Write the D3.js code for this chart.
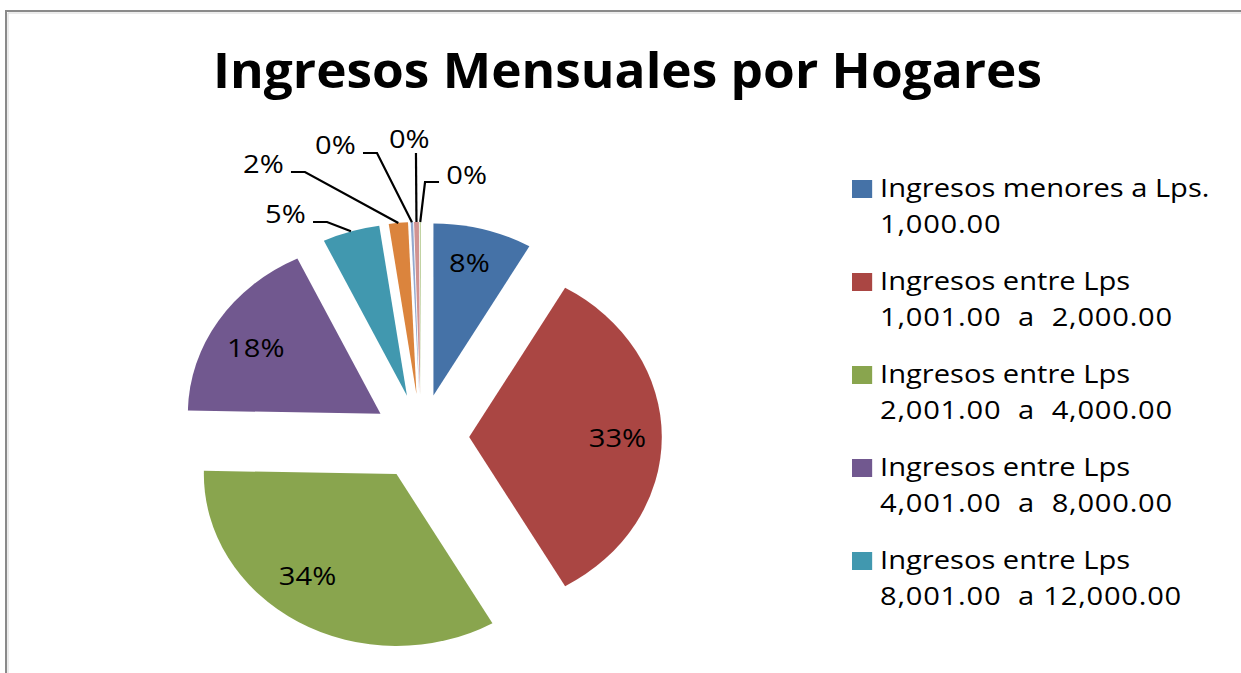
<!DOCTYPE html>
<html>
<head>
<meta charset="utf-8">
<script src="https://cdn.jsdelivr.net/npm/d3@7"></script>
<style>
  html, body { margin: 0; padding: 0; background: #ffffff; }
  svg { display: block; }
  text { font-family: "Open Sans", "Noto Sans", sans-serif; fill: #000; white-space: pre; }
</style>
</head>
<body>
<script>
// ---------------- data ----------------
const title = "Ingresos Mensuales por Hogares";
const categories = [
  "Ingresos menores a Lps. 1,000.00",
  "Ingresos entre Lps 1,001.00 a 2,000.00",
  "Ingresos entre Lps 2,001.00 a 4,000.00",
  "Ingresos entre Lps 4,001.00 a 8,000.00",
  "Ingresos entre Lps 8,001.00 a 12,000.00",
  "Categoría 6",
  "Categoría 7",
  "Categoría 8",
  "Categoría 9"
];
const values = [8.3, 33.4, 33.6, 17.6, 4.8, 1.6, 0.2, 0.4, 0.1];
// legend entries visible in the chart (two lines each)
const legendLines = [
  ["Ingresos menores a Lps.", "1,000.00"],
  ["Ingresos entre Lps", "1,001.00  a  2,000.00"],
  ["Ingresos entre Lps", "2,001.00  a  4,000.00"],
  ["Ingresos entre Lps", "4,001.00  a  8,000.00"],
  ["Ingresos entre Lps", "8,001.00  a 12,000.00"]
];
const colors = ["#4572A7", "#AA4643", "#89A54E", "#71588F", "#4198AF",
                "#DB843D", "#93A9CF", "#D19392", "#B9CD96"];

// ---------------- layout ----------------
const W = 1241, H = 673;
const SX = 1.12;                 // horizontal stretch of the whole picture
const cx = 421 / SX, cy = 437;   // pie centre (inner coords)
const R = 172, EXPLODE = 43;
// inside labels: slice index and small positional nudge (inner units)
const insideLayout = [
  { i: 0, nx: -2, ny: -5 },
  { i: 1, nx: 0, ny: 1 },
  { i: 2, nx: -12, ny: -12 },
  { i: 3, nx: 0, ny: 6 }
];
// outside labels: elbow point relative to pie centre (inner units) and side
const outsideLayout = [
  { i: 4, ex: -83.9, ey: -215, side: "left" },
  { i: 5, ex: -103.6, ey: -265, side: "left" },
  { i: 6, ex: -39.3, ey: -284, side: "left" },
  { i: 7, ex: -4.5, ey: -284, side: "top" },
  { i: 8, ex: 3.6, ey: -255, side: "right" }
];

const data = values.map((v, i) => ({ name: categories[i], value: v, i }));
const total = d3.sum(values);
const pctFmt = v => Math.round(v / total * 100) + "%";

const svg = d3.select("body").append("svg").attr("width", W).attr("height", H);

// chart area border (top + left visible)
svg.append("path")
  .attr("d", `M6,${H} V11 H${W}`)
  .attr("fill", "none").attr("stroke", "#8a8a8a").attr("stroke-width", 2);
svg.append("path")
  .attr("d", `M8,${H} V13 H${W}`)
  .attr("fill", "none").attr("stroke", "#d8d8d8").attr("stroke-width", 1);

const g = svg.append("g").attr("transform", `scale(${SX},1)`);

// title
g.append("text")
  .attr("x", 627.5 / SX).attr("y", 88)
  .attr("text-anchor", "middle")
  .attr("font-size", 49).attr("font-weight", 700)
  .attr("textLength", 829 / SX).attr("lengthAdjust", "spacingAndGlyphs")
  .text(title);

// pie
const pie = d3.pie().sort(null).value(d => d.value).startAngle(0).endAngle(2 * Math.PI);
const arcs = pie(data);
arcs.forEach(a => {
  a.mid = (a.startAngle + a.endAngle) / 2;
  a.ox = Math.sin(a.mid) * EXPLODE;
  a.oy = -Math.cos(a.mid) * EXPLODE;
});
const arc = d3.arc().innerRadius(0).outerRadius(R);
const pieG = g.append("g").attr("transform", `translate(${cx},${cy})`);

pieG.selectAll("path.slice").data(arcs).join("path")
  .attr("class", "slice")
  .attr("d", arc)
  .attr("transform", d => `translate(${d.ox},${d.oy})`)
  .attr("fill", d => colors[d.index]);

// inside labels
const labelR = 0.77 * R;
pieG.selectAll("text.inlab").data(insideLayout).join("text")
  .attr("class", "inlab")
  .attr("x", L => { const d = arcs[L.i]; return d.ox + Math.sin(d.mid) * labelR + L.nx; })
  .attr("y", L => { const d = arcs[L.i]; return d.oy - Math.cos(d.mid) * labelR + L.ny; })
  .attr("dy", "0.36em")
  .attr("text-anchor", "middle")
  .attr("font-size", 26)
  .text(L => pctFmt(arcs[L.i].value));

// outside labels with leader lines
const SEG = 12.5, GAP = 6.5;
outsideLayout.forEach(L => {
  const a = arcs[L.i];
  const px = a.ox + Math.sin(a.mid) * R;
  const py = a.oy - Math.cos(a.mid) * R;
  let pts, tx, ty, anchor;
  if (L.side === "left") {
    pts = [[px, py], [L.ex, L.ey], [L.ex - SEG, L.ey]];
    tx = L.ex - SEG - GAP; ty = L.ey + 1; anchor = "end";
  } else if (L.side === "right") {
    pts = [[px, py], [L.ex, L.ey], [L.ex + SEG, L.ey]];
    tx = L.ex + SEG + GAP; ty = L.ey + 2; anchor = "start";
  } else {
    pts = [[px, py], [L.ex, L.ey]];
    tx = L.ex - 6; ty = L.ey - 5; anchor = "middle";
  }
  pieG.append("path")
    .attr("d", d3.line()(pts))
    .attr("fill", "none").attr("stroke", "#000")
    .attr("stroke-width", 2.2)
    .attr("vector-effect", "non-scaling-stroke");
  pieG.append("text")
    .attr("x", tx).attr("y", ty)
    .attr("text-anchor", anchor)
    .attr("font-size", 26)
    .text(pctFmt(a.value));
});

// legend
const legX = 852 / SX, legTextX = 880 / SX, legY0 = 197, legStep = 93, lineStep = 36;
const leg = g.append("g");
legendLines.forEach((lines, k) => {
  const y = legY0 + k * legStep;
  leg.append("rect")
    .attr("x", legX).attr("y", y - 17)
    .attr("width", 18).attr("height", 18)
    .attr("fill", colors[k]);
  lines.forEach((ln, j) => {
    leg.append("text")
      .attr("x", legTextX).attr("y", y + j * lineStep)
      .attr("font-size", 26)
      .attr("letter-spacing", j === 1 ? 0.7 : 0)
      .text(ln);
  });
});
</script>
</body>
</html>
